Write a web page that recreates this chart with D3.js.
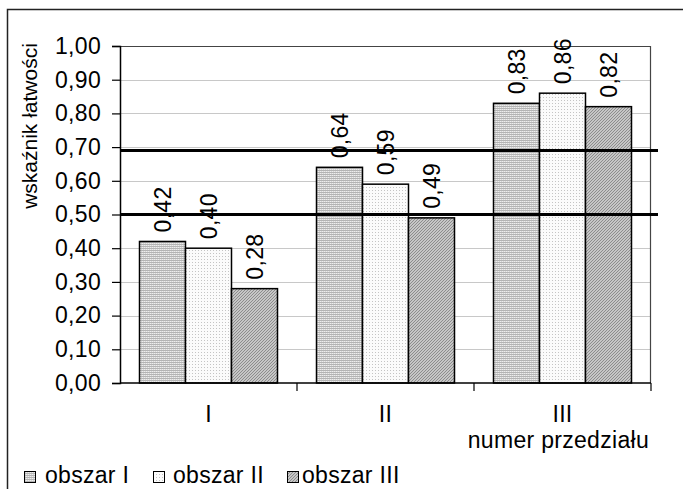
<!DOCTYPE html>
<html>
<head>
<meta charset="utf-8">
<script src="https://cdn.jsdelivr.net/npm/d3@7"></script>
<style>
  body { margin: 0; background: white; }
  text { font-family: "Liberation Sans", Arial, sans-serif; fill: black; font-size: 23px; letter-spacing: 0.3px; }
</style>
</head>
<body>
<div id="chart"></div>
<script>
// Chart data
let categories = ["I", "II", "III"];
let series = ["obszar I", "obszar II", "obszar III"];
let obszar1 = [0.42, 0.64, 0.83];
let obszar2 = [0.40, 0.59, 0.86];
let obszar3 = [0.28, 0.49, 0.82];
let yTicks = [0, 0.1, 0.2, 0.3, 0.4, 0.5, 0.6, 0.7, 0.8, 0.9, 1.0];
let refLines = [0.5, 0.69];

drawChart();

function drawChart() {
  let W = 683, H = 489;
  let margin = { top: 46, right: 32, bottom: 106, left: 120 };
  let width = W - margin.left - margin.right,
    height = H - margin.top - margin.bottom;

  let values = [obszar1, obszar2, obszar3];
  let fmt = function (v) {
    return v.toFixed(2).replace(".", ",");
  };

  let svg = d3
    .select("#chart")
    .append("svg")
    .attr("width", W)
    .attr("height", H);

  // Fill patterns for the three series
  let defs = svg.append("defs");
  let p1 = defs.append("pattern").attr("id", "pat0")
    .attr("patternUnits", "userSpaceOnUse").attr("width", 2).attr("height", 2);
  p1.append("rect").attr("width", 2).attr("height", 2).attr("fill", "#eeeeee");
  p1.append("rect").attr("width", 2).attr("height", 1).attr("fill", "#b4b4b4");
  p1.append("rect").attr("x", 1).attr("y", 1).attr("width", 1).attr("height", 1).attr("fill", "#d4d4d4");

  let p2 = defs.append("pattern").attr("id", "pat1")
    .attr("patternUnits", "userSpaceOnUse").attr("width", 3).attr("height", 3);
  p2.append("rect").attr("width", 3).attr("height", 3).attr("fill", "#fbfbfb");
  p2.append("rect").attr("width", 1).attr("height", 1).attr("fill", "#c4c4c4");

  let p3 = defs.append("pattern").attr("id", "pat2")
    .attr("patternUnits", "userSpaceOnUse").attr("width", 3).attr("height", 3);
  p3.append("rect").attr("width", 3).attr("height", 3).attr("fill", "#c6c6c6");
  p3.append("rect").attr("x", 0).attr("y", 2).attr("width", 1).attr("height", 1).attr("fill", "#8c8c8c");
  p3.append("rect").attr("x", 1).attr("y", 1).attr("width", 1).attr("height", 1).attr("fill", "#8c8c8c");
  p3.append("rect").attr("x", 2).attr("y", 0).attr("width", 1).attr("height", 1).attr("fill", "#8c8c8c");

  // Outer frame (runs off the right and bottom edge)
  svg.append("path")
    .attr("d", "M7.5," + (H + 5) + "V9.5H" + (W + 5))
    .attr("fill", "none")
    .attr("stroke", "#222")
    .attr("stroke-width", 1.5);

  let g = svg.append("g")
    .attr("transform", "translate(" + margin.left + "," + margin.top + ")");

  // Scales
  let x = d3.scaleBand().domain(categories).range([0, width]);
  let xs = d3.scaleBand().domain(series).range([0, x.bandwidth()]).paddingOuter(0.424);
  let y = d3.scaleLinear().domain([0, 1]).range([height, 0]);

  // Gridlines
  g.append("g")
    .selectAll("line")
    .data(yTicks.slice(1, -1))
    .enter()
    .append("line")
    .attr("x1", 0).attr("x2", width)
    .attr("y1", function (d) { return Math.round(y(d)) + 0.5; })
    .attr("y2", function (d) { return Math.round(y(d)) + 0.5; })
    .attr("stroke", "#c8c8c8");

  // Plot area top & right border
  g.append("path")
    .attr("d", "M0,0.5H" + (width - 0.5) + "V" + height)
    .attr("fill", "none")
    .attr("stroke", "#444")
    .attr("stroke-width", 1.2);

  // Bars
  series.forEach(function (s, si) {
    g.append("g")
      .selectAll("rect")
      .data(values[si])
      .enter()
      .append("rect")
      .attr("x", function (d, i) { return x(categories[i]) + xs(s); })
      .attr("y", function (d) { return y(d); })
      .attr("width", xs.bandwidth())
      .attr("height", function (d) { return height - y(d); })
      .attr("fill", "url(#pat" + si + ")")
      .attr("stroke", "black")
      .attr("stroke-width", 1.5);
  });

  // Reference lines
  g.append("g")
    .selectAll("line")
    .data(refLines)
    .enter()
    .append("line")
    .attr("x1", 0).attr("x2", width + 7)
    .attr("y1", function (d) { return y(d); })
    .attr("y2", function (d) { return y(d); })
    .attr("stroke", "black")
    .attr("stroke-width", 3);

  // Value labels, rotated
  series.forEach(function (s, si) {
    g.append("g")
      .selectAll("text")
      .data(values[si])
      .enter()
      .append("text")
      .attr("transform", function (d, i) {
        let cx = x(categories[i]) + xs(s) + xs.bandwidth() / 2;
        return "translate(" + cx + "," + (y(d) - 9) + ")rotate(-90)";
      })
      .attr("dy", "0.36em")
      .text(fmt);
  });

  // Y axis
  let yAxis = g.append("g")
    .call(d3.axisLeft(y).tickValues(yTicks).tickFormat(fmt).tickSize(8).tickPadding(11));
  yAxis.select(".domain").attr("stroke", "black").attr("stroke-width", 1.5);
  yAxis.selectAll(".tick line").attr("stroke", "black").attr("stroke-width", 1.2);
  yAxis.attr("font-size", null).attr("font-family", null);

  // X axis: ticks at category boundaries
  let xAxis = g.append("g").attr("transform", "translate(0," + height + ")");
  xAxis.append("line")
    .attr("x1", 0).attr("x2", width)
    .attr("stroke", "black").attr("stroke-width", 1.5);
  xAxis.selectAll(".bt")
    .data(categories)
    .enter()
    .append("line")
    .attr("class", "bt")
    .attr("x1", function (d) { return x(d) + x.bandwidth(); })
    .attr("x2", function (d) { return x(d) + x.bandwidth(); })
    .attr("y1", 0).attr("y2", 8)
    .attr("stroke", "black").attr("stroke-width", 1.2);
  xAxis.selectAll(".lbl")
    .data(categories)
    .enter()
    .append("text")
    .attr("class", "lbl")
    .attr("x", function (d) { return x(d) + x.bandwidth() / 2; })
    .attr("y", 39)
    .attr("text-anchor", "middle")
    .text(function (d) { return d; });

  // Axis titles
  xAxis.append("text")
    .attr("x", width - 2)
    .attr("y", 65)
    .attr("text-anchor", "end")
    .text("numer przedziału");

  svg.append("text")
    .attr("transform", "translate(30," + (margin.top + 80) + ")rotate(-90)")
    .attr("dy", "0.35em")
    .attr("text-anchor", "middle")
    .style("font-size", "21px")
    .style("letter-spacing", "0px")
    .text("wskaźnik łatwości");

  // Legend
  let legX = [24, 153, 287];
  let legTextX = [45, 173, 302];
  let leg = svg.append("g").attr("transform", "translate(0,471)");
  series.forEach(function (s, si) {
    leg.append("rect")
      .attr("x", legX[si] + 0.5).attr("y", 0.5)
      .attr("width", 11).attr("height", 11)
      .attr("fill", "url(#pat" + si + ")")
      .attr("stroke", "black");
    leg.append("text")
      .attr("x", legTextX[si])
      .attr("y", 12)
      .text(s);
  });
}
</script>
</body>
</html>
